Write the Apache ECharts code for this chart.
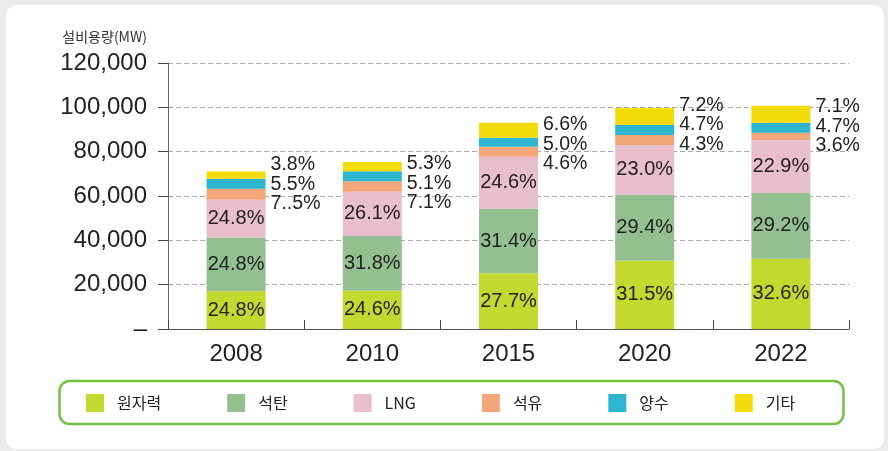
<!DOCTYPE html>
<html>
<head>
<meta charset="utf-8">
<script src="https://cdn.jsdelivr.net/npm/echarts@6/dist/echarts.min.js"></script>
<style>
html,body{margin:0;padding:0;background:#ebebeb;}
#c{width:888px;height:451px;}
</style>
</head>
<body>
<div id="c"></div>
<script>
// ---- data ----
var categories = ['2008', '2010', '2015', '2020', '2022'];
var seriesNames = ['원자력', '석탄', 'LNG', '석유', '양수', '기타'];
var nuclear = [17000, 17400, 25100, 30800, 31700];
var coal    = [24300, 24600, 29200, 29700, 29700];
var lng     = [17000, 19900, 23400, 22500, 23900];
var oil     = [5000, 4800, 4500, 4500, 3200];
var pumped  = [4500, 4500, 4100, 4500, 4500];
var other   = [3200, 4100, 6800, 7700, 7700];

var nuclearLabels = ['24.8%', '24.6%', '27.7%', '31.5%', '32.6%'];
var coalLabels    = ['24.8%', '31.8%', '31.4%', '29.4%', '29.2%'];
var lngLabels     = ['24.8%', '26.1%', '24.6%', '23.0%', '22.9%'];
var oilLabels     = ['7..5%', '7.1%', '4.6%', '4.3%', '3.6%'];
var pumpedLabels  = ['5.5%', '5.1%', '5.0%', '4.7%', '4.7%'];
var otherLabels   = ['3.8%', '5.3%', '6.6%', '7.2%', '7.1%'];

var yTicks = [0, 20000, 40000, 60000, 80000, 100000, 120000];

// ---- styles ----
var colors = ['#c3d92f', '#94c091', '#e9bfcd', '#f2a67a', '#2db5cf', '#f2dc0b'];
var numFont = 'Liberation Sans, Arial, sans-serif';
var krFont = 'Noto Sans CJK KR, sans-serif';
var sideLabelDy = [-16.5, -8, -7.5, -12.5, -8.5];   // vertical nudge of side label blocks (px)

function insideLabel(texts) {
  return {
    show: true, position: 'inside',
    formatter: function (p) { return texts[p.dataIndex]; },
    fontFamily: numFont, fontSize: 20, color: '#222'
  };
}

var otherData = other.map(function (v, i) {
  return {value: v, label: {position: [64, sideLabelDy[i]]}};
});

var chart = echarts.init(document.getElementById('c'), null, {renderer: 'canvas'});
var option = {
  animation: false,
  backgroundColor: '#ebebeb',
  color: colors,
  graphic: [
    {type: 'rect', z: -10, silent: true,
     shape: {x: 6, y: 5, width: 878, height: 444, r: 10},
     style: {fill: '#ffffff'}},
    {type: 'rect', z: -5, silent: true,
     shape: {x: 59.5, y: 381, width: 784, height: 43, r: 10},
     style: {fill: 'none', stroke: '#76c043', lineWidth: 2.5}}
  ],
  grid: {left: 168, right: 39, top: 63, bottom: 122, containLabel: false},
  legend: {
    left: 86, top: 394, padding: 0,
    itemWidth: 18, itemHeight: 18, itemGap: 66,
    icon: 'rect',
    data: seriesNames,
    textStyle: {fontFamily: krFont, fontSize: 16, color: '#222', padding: [0, 0, 0, 8]}
  },
  xAxis: {
    type: 'category', data: categories,
    axisLine: {lineStyle: {color: '#555', width: 1}},
    axisTick: {show: true, inside: true, length: 9, lineStyle: {color: '#444'}},
    axisLabel: {fontFamily: numFont, fontSize: 24, color: '#222', margin: 13},
    splitLine: {show: false}
  },
  yAxis: {
    type: 'value', min: 0, max: 120000, interval: 20000,
    name: '설비용량(MW)', nameLocation: 'end', nameGap: 26,
    nameTextStyle: {fontFamily: krFont, fontSize: 14, color: '#333',
                    align: 'right', verticalAlign: 'middle', padding: [0, 21, 0, 0]},
    axisLine: {show: true, lineStyle: {color: '#666', width: 1}},
    axisTick: {show: true, inside: false, length: 10, lineStyle: {color: '#444'}},
    axisLabel: {
      fontFamily: numFont, fontSize: 24, color: '#222', margin: 21,
      formatter: function (v) {
        if (yTicks.indexOf(v) < 0) return '';
        return v === 0 ? '–' : v.toLocaleString('en-US');
      }
    },
    splitLine: {show: true, lineStyle: {color: '#aaa', type: [5, 3], width: 1}}
  },
  series: [
    {name: seriesNames[0], type: 'bar', stack: 'a', barWidth: 59, data: nuclear, label: insideLabel(nuclearLabels)},
    {name: seriesNames[1], type: 'bar', stack: 'a', barWidth: 59, data: coal, label: insideLabel(coalLabels)},
    {name: seriesNames[2], type: 'bar', stack: 'a', barWidth: 59, data: lng, label: insideLabel(lngLabels)},
    {name: seriesNames[3], type: 'bar', stack: 'a', barWidth: 59, data: oil},
    {name: seriesNames[4], type: 'bar', stack: 'a', barWidth: 59, data: pumped},
    {name: seriesNames[5], type: 'bar', stack: 'a', barWidth: 59, data: otherData,
     label: {
       show: true, position: [64, -13], align: 'left', verticalAlign: 'top',
       formatter: function (p) {
         var i = p.dataIndex;
         return otherLabels[i] + '\n' + pumpedLabels[i] + '\n' + oilLabels[i];
       },
       fontFamily: numFont, fontSize: 19.5, lineHeight: 19.5, color: '#222'
     }}
  ]
};
chart.setOption(option);
</script>
</body>
</html>
